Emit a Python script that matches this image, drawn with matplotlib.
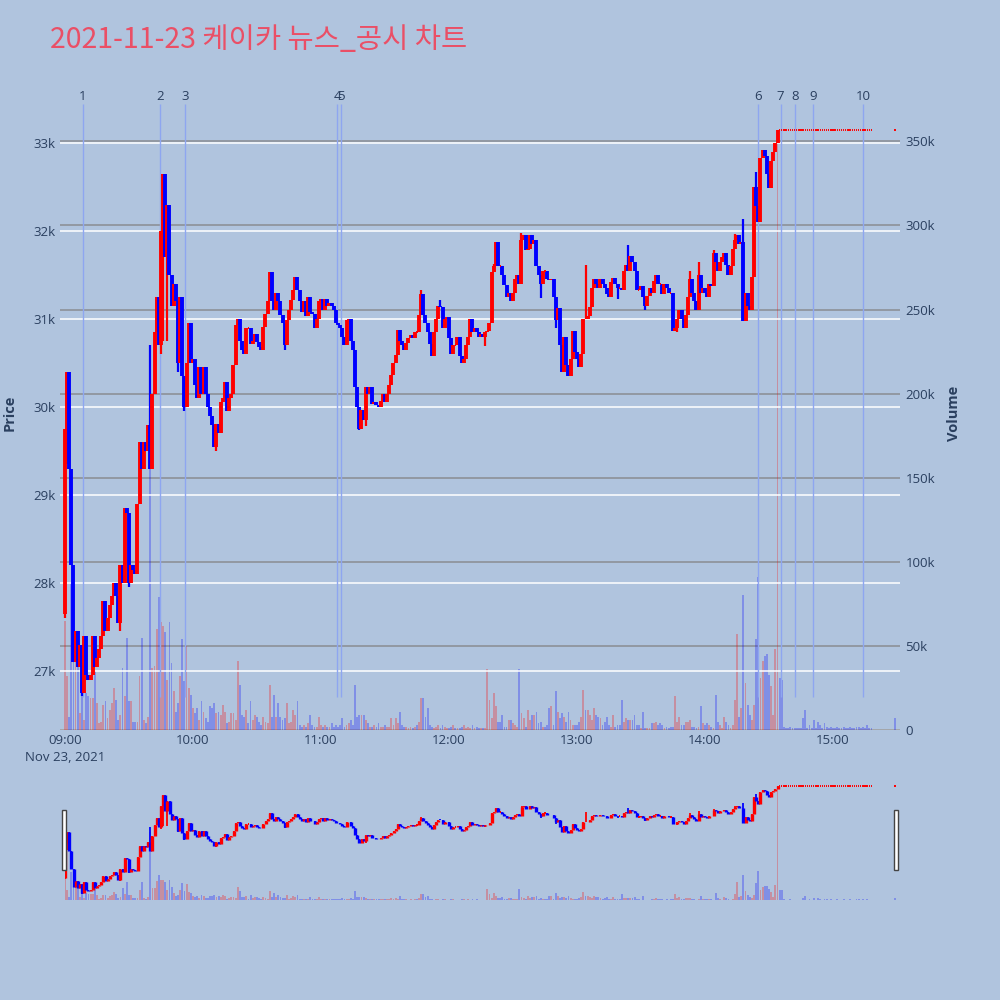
import numpy as np
import matplotlib
matplotlib.use("Agg")
import matplotlib.pyplot as plt
from matplotlib.transforms import blended_transform_factory
from matplotlib.patches import Rectangle

# ---------------- data (1-minute candles, minute 0 = 09:00) ----------------
first_open = 27650
closes_0900 = [29750, 30400, 29300, 28200, 27100, 27450, 27050, 27300, 26750, 27400,
               26950, 26900, 26950, 27400, 27050, 27150, 27250, 27400, 27800, 27450,
               27600, 27750, 27850, 28000, 27850, 27550, 28200, 28000, 28850, 28800,
               28000, 28200, 28150, 28100, 28900, 29600, 29300, 29600, 29500, 29800,
               29300, 30150, 30850, 31250, 30700, 32000, 32650, 31700, 32300, 31500,
               31150, 31400, 31200, 30500, 31250, 30350, 30000, 30500, 30950, 30500,
               30550]
closes_1001 = [30250, 30100, 30450, 30150, 30450, 30150, 30000, 29900, 29800, 29550,
               29810, 29700, 30060, 30100, 30290, 29950, 30100, 30150, 30480, 30930,
               31000, 30750, 30650, 30600, 30900, 30900, 30720, 30750, 30830, 30740,
               30680, 30650, 30910, 31060, 31200, 31540, 31210, 31100, 31300, 31200,
               31050, 30950, 30700, 30990, 31100, 31220, 31330, 31480, 31330, 31200,
               31080, 31200, 31030, 31250, 31080, 31060, 30900, 31000, 31200, 31230,
               31100, 31230, 31150, 31180, 31150, 31100, 30950]
closes_1108 = [30930, 30900, 30800, 30700, 30990, 31000, 30750, 30650, 30230, 30000,
               29750, 29970, 29850, 30230, 30150, 30230, 30040, 30060, 30020, 30000,
               30070, 30150, 30060, 30150, 30250, 30370, 30500, 30590, 30880, 30750,
               30700, 30650, 30730, 30780, 30820, 30780, 30850, 30850, 31050, 31280,
               31050, 30950, 30850, 30720, 30580, 30850, 31000, 31150, 31140, 30900,
               31000, 31020, 30780, 30600, 30700, 30700, 30800, 30580, 30500, 30550,
               30700, 30800, 31000, 30850, 30900, 30850]
closes_1214 = [30800, 30830, 30800, 30850, 30860, 30950, 31540, 31600, 31880, 31600,
               31600, 31500, 31390, 31250, 31300, 31210, 31300, 31450, 31500, 31400,
               31900, 31960, 31780, 31800, 31950, 31850, 31900, 31600, 31500, 31400,
               31550, 31550, 31460, 31440, 31450, 31250, 30990, 31130, 30700, 30400,
               30800, 30480, 30350, 30550, 30870, 30630, 30550, 30450, 30600, 31000,
               31000, 31030, 31140, 31350, 31450, 31400, 31350, 31450, 31400, 31350,
               31280, 31250, 31420, 31470, 31400]
closes_1319 = [31350, 31350, 31330, 31550, 31620, 31550, 31720, 31650, 31550, 31330,
               31330, 31380, 31250, 31150, 31260, 31350, 31300, 31430, 31500, 31400,
               31400, 31280, 31400, 31350, 31300, 31300, 30870, 30900, 31000, 31100,
               31000, 30900, 31050, 31250, 31450, 31300, 31200, 31100, 31500, 31300,
               31350, 31300, 31250, 31400, 31380, 31750, 31650, 31550, 31650, 31700,
               31750, 31620, 31500, 31600, 31800, 31900, 31950, 31850, 31880]
closes_1418 = [30980, 31300, 31150, 31100, 31480, 32500, 32280, 32100, 32830, 32920,
               32850, 32650, 32490, 32800, 32900, 33000, 33150]
closes_1435 = [33150, 33150, 33150, 33150, 33150, 33150, 33150, 33150, 33150, 33150,
               33150, 33150, 33150, 33150, 33150, 33150, 33150, 33150, 33150, 33150,
               33150, 33150, 33150, 33150, 33150, 33150, 33150, 33150, 33150, 33150,
               33150, 33150, 33150, 33150, 33150, 33150, 33150, 33150, 33150, 33150,
               33150, 33150, 33150, 33150]

vols_0900 = [65, 32, 8, 88, 57, 41, 39, 10, 30, 6, 22, 20, 19, 19, 35, 16, 4, 5, 15, 17,
             7, 12, 16, 25, 18, 6, 9, 37, 20, 55, 17, 17, 5, 5, 5, 32, 55, 6, 4, 8,
             215, 37, 38, 60, 79, 64, 62, 58, 30, 64, 40, 23, 11, 16, 32, 54, 29, 50, 25, 21,
             13]
vols_1001 = [10, 13, 6, 17, 11, 7, 5, 14, 13, 16, 10, 11, 9, 15, 11, 4, 5, 10, 10, 6,
             41, 27, 9, 8, 12, 4, 17, 6, 9, 8, 5, 3, 8, 5, 4, 27, 8, 21, 8, 16,
             8, 6, 7, 16, 4, 5, 12, 9, 17, 3, 2, 3, 2, 4, 9, 3, 2, 2, 8, 3,
             2, 3, 2, 2, 4, 2, 3]
vols_1108 = [2, 3, 7, 2, 3, 4, 6, 3, 27, 8, 9, 9, 9, 6, 4, 2, 2, 3, 2, 4,
             2, 2, 3, 2, 2, 7, 3, 7, 4, 11, 3, 2, 2, 1, 2, 1, 2, 3, 5, 19,
             19, 8, 13, 3, 2, 1, 2, 3, 1, 3, 2, 1, 1, 2, 3, 1, 1, 1, 2, 3,
             1, 2, 1, 3, 1, 2]
vols_1214 = [1, 1, 1, 1, 36, 18, 7, 22, 14, 5, 5, 9, 2, 2, 6, 6, 4, 3, 2, 36,
             10, 7, 2, 12, 6, 9, 9, 11, 4, 5, 2, 2, 3, 13, 14, 3, 23, 11, 7, 10,
             8, 5, 11, 6, 3, 3, 3, 5, 8, 24, 12, 12, 9, 6, 13, 9, 8, 7, 3, 5,
             8, 3, 2, 9, 2]
vols_1319 = [3, 3, 18, 5, 7, 6, 6, 6, 9, 3, 3, 1, 11, 1, 1, 1, 4, 4, 5, 3,
             4, 3, 1, 2, 1, 2, 2, 20, 5, 8, 3, 3, 5, 5, 6, 2, 2, 1, 2, 14,
             4, 3, 4, 3, 2, 1, 21, 5, 3, 1, 8, 5, 3, 1, 3, 18, 57, 8, 13]
vols_1418 = [80, 28, 15, 9, 6, 15, 54, 91, 31, 41, 44, 45, 33, 26, 9, 48, 357]
vols_1435 = [31, 30, 2, 1, 1, 2, 1, 1, 1, 1, 1, 7, 12, 1, 3, 1, 6, 1, 5, 3,
             1, 4, 2, 1, 2, 1, 1, 2, 1, 1, 2, 1, 1, 2, 1, 1, 2, 2, 1, 2,
             1, 3, 1, 1]

close_auction_minute = 389
close_auction_price = 33150
close_auction_vol = 7

wick_lows = {0: 27600, 1: 29350, 8: 26720, 26: 27450, 30: 27950, 45: 30600, 46: 30750,
             48: 30750, 53: 30400, 56: 29950, 71: 29500, 103: 30650, 138: 29740,
             141: 29780, 197: 30690, 223: 31240, 230: 30900, 234: 30400, 259: 31230,
             272: 31100, 287: 30850, 319: 30990}
wick_highs = {40: 30700, 167: 31330, 176: 31220, 201: 31630, 214: 31980, 244: 31620,
              264: 31840, 293: 31550, 297: 31650, 304: 31780, 314: 31970, 318: 32140,
              324: 32670}

news_minutes = [8.3, 44.5, 56.3, 127.6, 129.2, 324.7, 335.5, 342.2, 350.8, 374.2]
news_labels = ["1", "2", "3", "4", "5", "6", "7", "8", "9", "10"]

hour_ticks = [0, 60, 120, 180, 240, 300, 360]
hour_labels = ["09:00\nNov 23, 2021", "10:00", "11:00", "12:00", "13:00", "14:00", "15:00"]
price_ticks = [27000, 28000, 29000, 30000, 31000, 32000, 33000]
price_labels = ["27k", "28k", "29k", "30k", "31k", "32k", "33k"]
vol_ticks = [0, 50000, 100000, 150000, 200000, 250000, 300000, 350000]
vol_labels = ["0", "50k", "100k", "150k", "200k", "250k", "300k", "350k"]

# ---------------- assemble ----------------
closes = (closes_0900 + closes_1001 + closes_1108 + closes_1214 + closes_1319
          + closes_1418 + closes_1435)
vols_k = (vols_0900 + vols_1001 + vols_1108 + vols_1214 + vols_1319
          + vols_1418 + vols_1435)
assert len(closes) == len(vols_k), (len(closes), len(vols_k))

minutes = list(range(len(closes))) + [close_auction_minute]
opens = [first_open] + closes[:-1] + [close_auction_price]
closes = closes + [close_auction_price]
vols = [v * 1000 for v in vols_k] + [close_auction_vol * 1000]
highs, lows = [], []
for i, (o, c) in enumerate(zip(opens, closes)):
    highs.append(max(o, c, wick_highs.get(i, o)))
    lows.append(min(o, c, wick_lows.get(i, o)))

minutes = np.array(minutes, dtype=float)
opens = np.array(opens); closes = np.array(closes)
highs = np.array(highs); lows = np.array(lows); vols = np.array(vols)

UP, DOWN = "#FF0000", "#0000FF"
BG_FIG, BG_AX = "#B0C4DE", "#E5ECF6"
TXT = "#2a3f5f"
PRICE_LIM = (26330, 33535)
VOL_LIM = (0, 377000)

up = closes >= opens
vol_up = closes > opens
flat = (highs == lows)


def draw(ax_p, ax_v, body_lw, wick_lw):
    # volume
    vcol = np.where(vol_up, UP, DOWN)
    ax_v.bar(minutes, vols, width=0.85, color=vcol, alpha=0.27, linewidth=0, zorder=2)
    # candles
    ccol = np.where(up, UP, DOWN)
    nf = ~flat
    ax_p.vlines(minutes[nf], lows[nf], highs[nf], colors=ccol[nf], linewidth=wick_lw, zorder=4)
    ax_p.vlines(minutes[nf], np.minimum(opens, closes)[nf], np.maximum(opens, closes)[nf],
                colors=ccol[nf], linewidth=body_lw, zorder=5)
    ax_p.hlines(closes[flat], minutes[flat] - 0.3, minutes[flat] + 0.3,
                colors=UP, linewidth=1.4, zorder=5)
    ax_p.set_ylim(*PRICE_LIM)
    ax_v.set_ylim(*VOL_LIM)
    ax_p.set_zorder(ax_v.get_zorder() + 1)
    ax_p.patch.set_visible(False)
    ax_v.set_facecolor(BG_AX)
    for a in (ax_p, ax_v):
        for s in a.spines.values():
            s.set_visible(False)


fig = plt.figure(figsize=(10, 10), dpi=100)
fig.patch.set_facecolor(BG_FIG)

# main chart
ax_p = fig.add_axes([0.06, 0.27, 0.84, 0.634])
ax_v = ax_p.twinx()
draw(ax_p, ax_v, body_lw=2.8, wick_lw=1.6)
ax_p.set_xlim(-2.3, 391.4)

ax_v.set_yticks(vol_ticks)
ax_v.set_yticklabels(vol_labels)
ax_v.grid(axis="y", color="#8a8d92", linewidth=1.1, zorder=0)
ax_v.axhline(0, color="white", linewidth=2, zorder=1)
ax_p.set_yticks(price_ticks)
ax_p.set_yticklabels(price_labels)
ax_p.grid(axis="y", color="white", linewidth=1.1, zorder=0)
ax_p.set_xticks(hour_ticks)
ax_p.set_xticklabels(hour_labels, linespacing=1.35)
for a in (ax_p, ax_v):
    a.tick_params(length=0, labelsize=9.5, labelcolor=TXT, pad=3)
    for lab in a.get_xticklabels() + a.get_yticklabels():
        lab.set_family("Open Sans")
ax_v.tick_params(axis="y", pad=4)

# news markers
trans = blended_transform_factory(ax_p.transData, ax_p.transAxes)
ax_p.vlines(news_minutes, 26700, 33440, colors="#8EA6F0", linewidth=1.0, zorder=3)
for m, lab in zip(news_minutes, news_labels):
    ax_p.text(m, 1.0, lab, transform=trans, ha="center", va="center",
              fontsize=9.5, color=TXT, family="Open Sans", zorder=6, clip_on=False)

# range slider
ax_rs = fig.add_axes([0.065, 0.10, 0.832, 0.12])
ax_rs_v = ax_rs.twinx()
draw(ax_rs, ax_rs_v, body_lw=2.4, wick_lw=1.3)
ax_rs.set_xlim(0, 390)
for a in (ax_rs, ax_rs_v):
    a.set_xticks([]); a.set_yticks([])
for xh in (0.062, 0.894):
    fig.patches.append(Rectangle((xh, 0.13), 0.004, 0.06, transform=fig.transFigure,
                                 facecolor="white", edgecolor="#444444", linewidth=1.0))

# texts
fig.text(0.05, 0.96, "2021-11-23 케이카 뉴스_공시 차트", fontsize=20.5, color="#EA4F66",
         family=["Noto Sans CJK KR", "DejaVu Sans"], va="center", ha="left")
fig.text(0.010, 0.587, "Price", rotation=90, fontsize=10.5, color=TXT, fontweight="bold",
         family="Open Sans", va="center", ha="center")
fig.text(0.954, 0.587, "Volume", rotation=90, fontsize=10.5, color=TXT, fontweight="bold",
         family="Open Sans", va="center", ha="center")

fig.savefig("out.png", dpi=100, facecolor=BG_FIG)
